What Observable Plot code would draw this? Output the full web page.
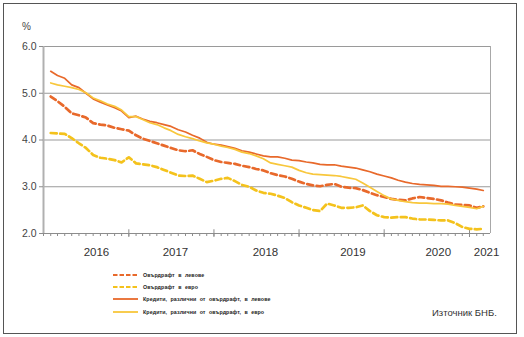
<!DOCTYPE html>
<html><head><meta charset="utf-8">
<script src="https://cdn.jsdelivr.net/npm/d3@7"></script>
<script src="https://cdn.jsdelivr.net/npm/@observablehq/plot@0.6"></script>
<style>
body{margin:0;background:#fff;font-family:"Liberation Sans",Arial,sans-serif;}
#wrap{position:relative;width:524px;height:337px;overflow:hidden;background:#fff;}
#frame{position:absolute;left:3px;top:3px;width:514px;height:331px;border:1px solid #555;box-sizing:border-box;pointer-events:none;}
#chart{position:absolute;left:0;top:0;}
#pct{position:absolute;left:22px;top:21px;font-size:10px;color:#444;}
#legend{position:absolute;left:113px;top:269px;}
.row{display:flex;align-items:center;height:12.2px;}
.row svg{display:block;margin-right:5px;}
.row span{font-size:5.3px;font-weight:bold;color:#222;word-spacing:1.8px;letter-spacing:0.1px;}
#src{position:absolute;left:432px;top:307px;font-size:9.5px;color:#333;}
</style>
</head><body>
<div id="wrap">
  <div id="chart"></div>
  <div id="pct">%</div>
  <div id="legend"></div>
  <div id="src">Източник БНБ.</div>
  <div id="frame"></div>
</div>
<script>
// Monthly observations, Feb 2016 .. Mar 2021
const firstMonth = new Date(Date.UTC(2016, 1, 1));
const endMonth = new Date(Date.UTC(2021, 3, 1));

const seriesNames = [
  "Овърдрафт в левове",
  "Овърдрафт в евро",
  "Кредити, различни от овърдрафт, в левове",
  "Кредити, различни от овърдрафт, в евро"
];

const overdraftBGN = [4.93,4.83,4.71,4.57,4.53,4.48,4.36,4.33,4.31,4.26,4.23,4.20,4.10,4.03,3.98,3.93,3.88,3.83,3.78,3.76,3.78,3.70,3.64,3.57,3.53,3.51,3.49,3.45,3.42,3.38,3.35,3.29,3.25,3.22,3.17,3.11,3.06,3.03,3.01,3.04,3.06,3.00,2.98,2.97,2.93,2.87,2.82,2.78,2.74,2.72,2.71,2.75,2.78,2.76,2.74,2.71,2.66,2.62,2.61,2.60,2.55,2.58];
const overdraftEUR = [4.15,4.14,4.13,4.04,3.93,3.83,3.68,3.62,3.60,3.57,3.52,3.63,3.50,3.48,3.46,3.42,3.36,3.30,3.24,3.23,3.24,3.17,3.10,3.13,3.17,3.19,3.12,3.04,3.00,2.92,2.87,2.85,2.81,2.76,2.67,2.60,2.55,2.50,2.48,2.64,2.60,2.55,2.55,2.56,2.60,2.48,2.39,2.35,2.34,2.35,2.35,2.32,2.30,2.30,2.29,2.28,2.28,2.22,2.14,2.10,2.09,2.10];
const creditsBGN = [5.47,5.38,5.32,5.18,5.12,5.00,4.88,4.81,4.75,4.69,4.62,4.48,4.51,4.45,4.40,4.37,4.33,4.29,4.22,4.17,4.10,4.04,3.95,3.91,3.89,3.86,3.82,3.77,3.74,3.70,3.66,3.64,3.64,3.61,3.57,3.56,3.53,3.51,3.48,3.47,3.47,3.44,3.42,3.40,3.36,3.32,3.27,3.23,3.19,3.14,3.10,3.07,3.05,3.04,3.03,3.01,3.01,3.00,2.99,2.97,2.95,2.92];
const creditsEUR = [5.22,5.18,5.15,5.12,5.08,5.01,4.90,4.84,4.77,4.72,4.64,4.50,4.50,4.44,4.37,4.33,4.26,4.20,4.12,4.07,4.03,3.98,3.94,3.91,3.87,3.84,3.80,3.74,3.71,3.66,3.60,3.51,3.48,3.45,3.42,3.35,3.30,3.27,3.26,3.25,3.24,3.22,3.19,3.16,3.08,2.99,2.90,2.81,2.74,2.71,2.68,2.66,2.65,2.65,2.64,2.64,2.63,2.60,2.58,2.56,2.53,2.58];

const yTicks = [2, 3, 4, 5, 6];
const yearLabels = ["2016", "2017", "2018", "2019", "2020", "2021"];
const yearLabelDates = ["2016-08-15", "2017-07-20", "2018-08-10", "2019-08-20", "2020-08-20", "2021-03-15"];

const colors = ["#E8692B", "#F4C21C", "#E8692B", "#F8C73C"];
const dashed = [true, true, false, false];

const domainStart = new Date(Date.UTC(2016, 0, 1));
const months = d3.utcMonths(firstMonth, endMonth);
const monthTicks = d3.utcMonths(domainStart, endMonth);
const yearTicks = d3.utcYears(new Date(Date.UTC(2017, 0, 1)), endMonth);

const allValues = [overdraftBGN, overdraftEUR, creditsBGN, creditsEUR];
const rows = [];
allValues.forEach((vals, s) => vals.forEach((v, i) => rows.push({date: months[i], v, s})));
const labelRows = yearLabels.map((t, i) => ({t, date: new Date(yearLabelDates[i] + "T00:00:00Z")}));

const lineMark = (s) => Plot.line(rows.filter(r => r.s === s), {
  x: "date", y: "v", stroke: colors[s],
  strokeWidth: dashed[s] ? 2.7 : 1.7,
  strokeDasharray: dashed[s] ? "6,3.5" : null,
  strokeLinejoin: "round", curve: "linear"
});

const chart = Plot.plot({
  width: 524, height: 262,
  marginLeft: 43, marginRight: 34, marginTop: 46, marginBottom: 29,
  style: {fontFamily: '"Liberation Sans", Arial, sans-serif', background: "transparent"},
  x: {type: "utc", domain: [domainStart, endMonth]},
  y: {domain: [2, 6]},
  marks: [
    Plot.gridY([3, 4, 5, 6], {stroke: "#9a9a9a", strokeOpacity: 1, strokeWidth: 1}),
    Plot.ruleX([endMonth], {y1: 2, y2: 6, stroke: "#a8a8a8", strokeWidth: 1}),
    Plot.ruleY([2], {stroke: "#8c8c8c", strokeWidth: 1}),
    Plot.axisX(monthTicks, {tickSize: 3, tickFormat: () => "", stroke: "#8c8c8c", label: null}),
    Plot.axisX(yearTicks, {tickSize: 4, tickFormat: () => "", stroke: "#8c8c8c", label: null}),
    Plot.ruleX(yearTicks, {y1: 2, y2: 2.08, stroke: "#8c8c8c"}),
    Plot.ruleX([domainStart], {y1: 2, y2: 6, stroke: "#b0b0b0", strokeWidth: 2}),
    Plot.axisY(yTicks, {tickSize: 4, tickPadding: 3, tickFormat: d3.format(".1f"), fontSize: 10.5, fill: "#444", stroke: "#8c8c8c", label: null}),
    Plot.text(labelRows, {x: "date", text: "t", frameAnchor: "bottom", dy: 19, lineAnchor: "middle", fontSize: 11.5, fill: "#333"}),
    lineMark(0), lineMark(1), lineMark(2), lineMark(3)
  ]
});
document.getElementById("chart").appendChild(chart);

const legend = document.getElementById("legend");
seriesNames.forEach((name, s) => {
  const row = document.createElement("div");
  row.className = "row";
  row.innerHTML = `<svg width="25" height="6"><line x1="0" y1="3" x2="25" y2="3" stroke="${colors[s]}" stroke-width="${dashed[s] ? 2 : 1.8}" ${dashed[s] ? 'stroke-dasharray="4.5,2"' : ''}/></svg><span>${name}</span>`;
  legend.appendChild(row);
});
</script>
</body></html>
